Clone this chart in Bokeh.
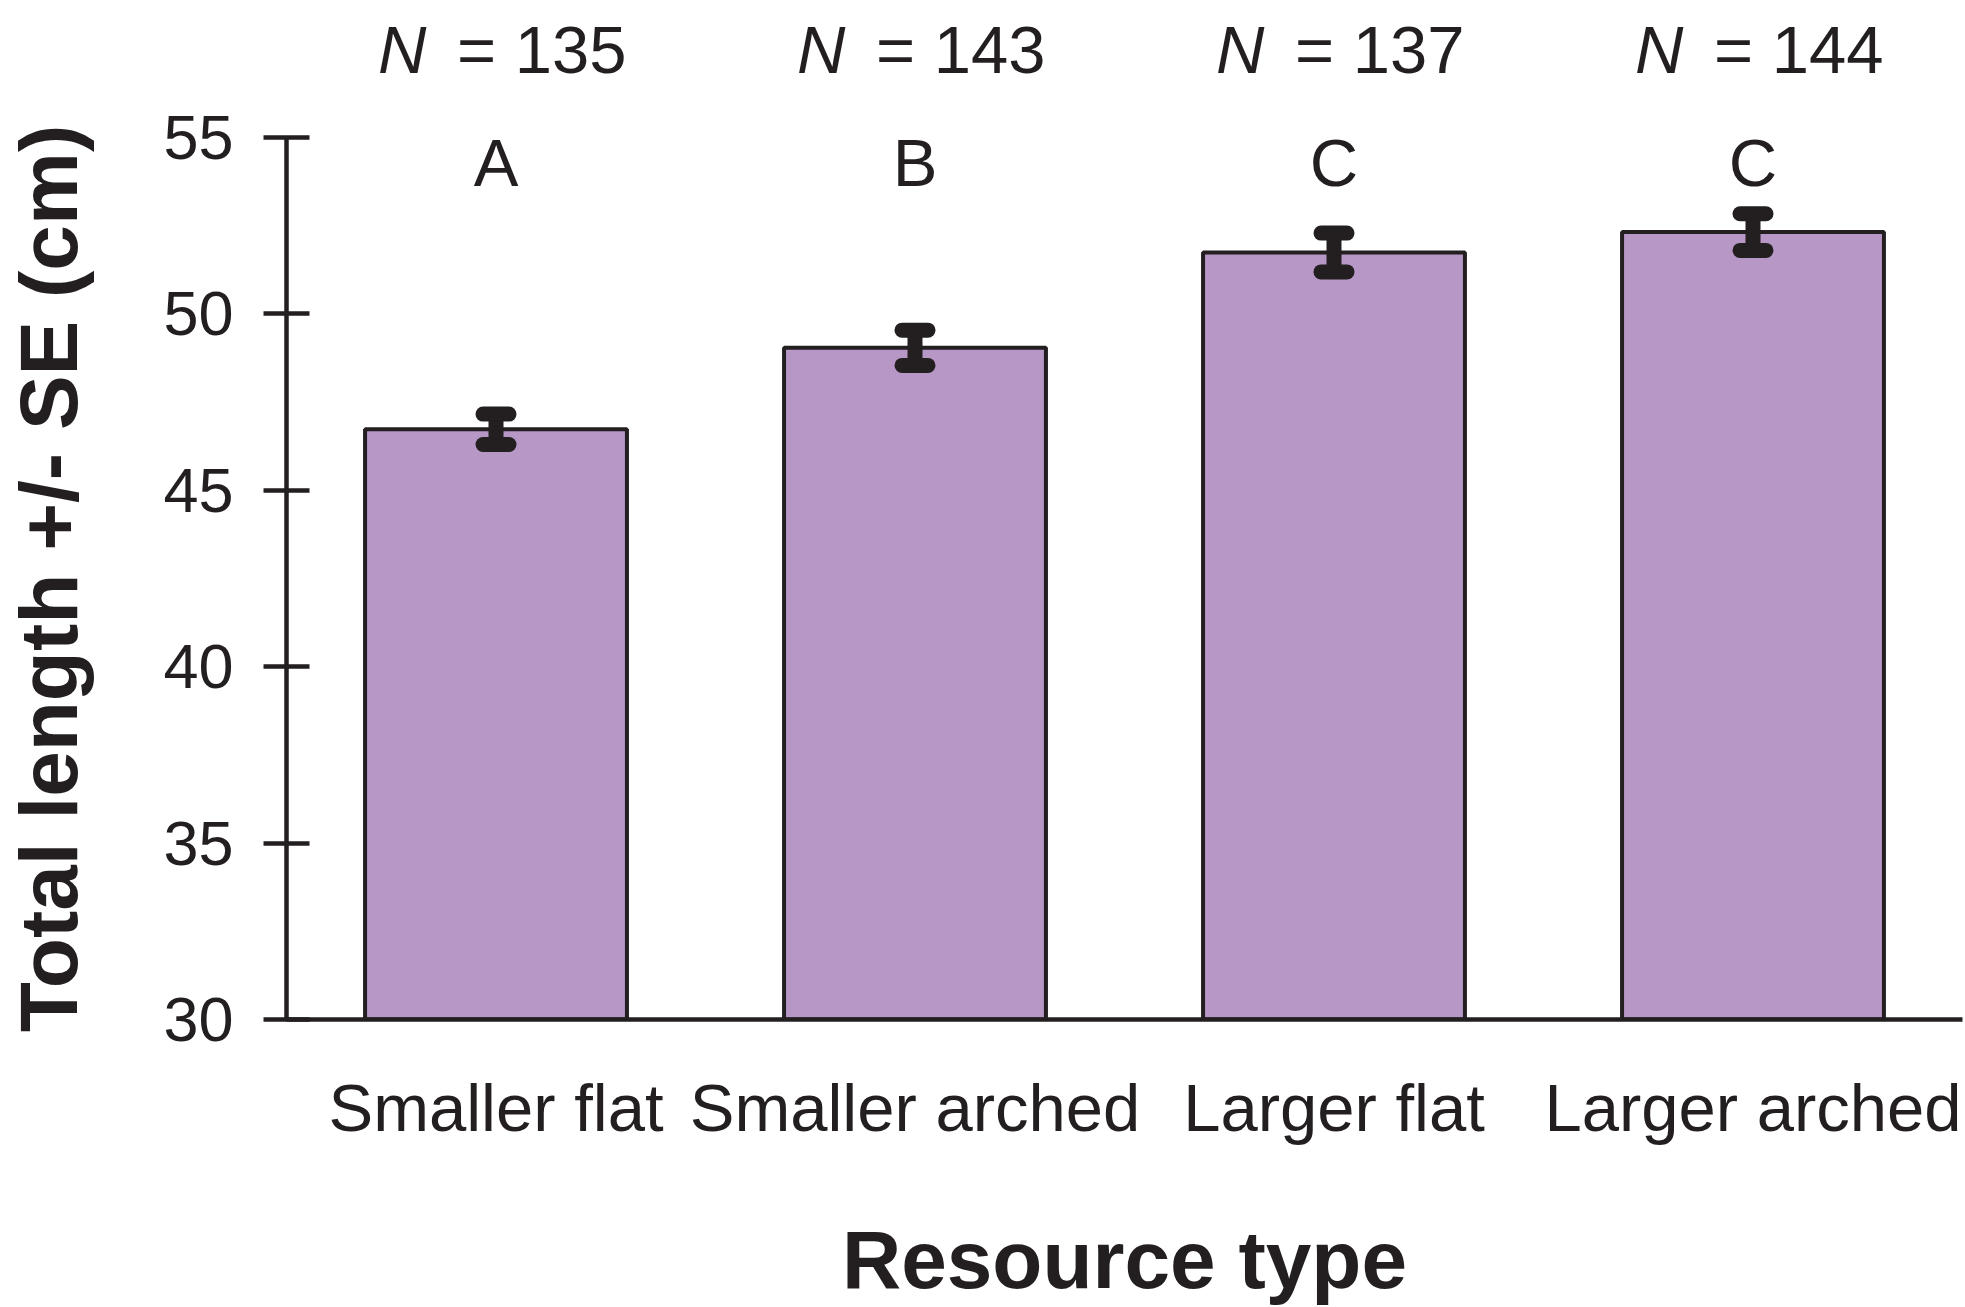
from bokeh.plotting import figure
from bokeh.layouts import column
from bokeh.models import ColumnDataSource, FactorRange, Range1d, FixedTicker, LabelSet
from bokeh.transform import dodge
from bokeh.core.properties import value
from bokeh.embed import file_html
from bokeh.resources import INLINE

# Mean total length (cm) by resource type, with standard errors
categories = ["Smaller flat", "Smaller arched", "Larger flat", "Larger arched"]
mean_length = [46.73, 49.04, 51.74, 52.32]
std_error = [0.43, 0.50, 0.55, 0.52]
sample_sizes = [135, 143, 137, 144]
group_letters = ["A", "B", "C", "C"]
y_ticks = [30, 35, 40, 45, 50, 55]

INK = "#231F20"
FILL = "#B797C6"
FONT = "Liberation Sans"
W = 1965
TOP_H = 100          # strip above the chart holding the sample sizes
TOTAL_H = 1307

src = ColumnDataSource(dict(
    cat=categories,
    mean=mean_length,
    lo=[m - e for m, e in zip(mean_length, std_error)],
    hi=[m + e for m, e in zip(mean_length, std_error)],
    n_sym=["N"] * len(categories),
    n_rest=[f"= {n}" for n in sample_sizes],
    letter=group_letters,
))

x_range = FactorRange(factors=categories, range_padding=0)

# --- strip with "N = ..." labels, sharing the category axis ---
top = figure(
    width=W, height=TOP_H, x_range=x_range, y_range=Range1d(0, TOP_H),
    x_axis_location=None, y_axis_location=None,
    output_backend="svg", toolbar_location=None,
    min_border_left=286, min_border_right=3, min_border_top=0, min_border_bottom=0,
)
top.outline_line_color = None
top.grid.grid_line_color = None
n_base = 28
top.add_layout(LabelSet(x="cat", y=n_base, text="n_sym", source=src, x_offset=-118,
                        text_font=value(FONT), text_font_style="italic",
                        text_font_size="67px", text_color=INK,
                        text_align="left", text_baseline="alphabetic"))
top.add_layout(LabelSet(x="cat", y=n_base, text="n_rest", source=src, x_offset=-39,
                        text_font=value(FONT), text_font_size="67px", text_color=INK,
                        text_align="left", text_baseline="alphabetic"))

# --- main bar chart ---
p = figure(
    width=W, height=TOTAL_H - TOP_H,
    x_range=x_range, y_range=Range1d(30, 55),
    output_backend="svg", toolbar_location=None,
    min_border_left=286, min_border_right=3,
    min_border_top=37, min_border_bottom=280,
)
p.outline_line_color = None
p.grid.grid_line_color = None

# bars
p.vbar(x="cat", top="mean", bottom=30, width=0.625, source=src,
       fill_color=FILL, line_color=INK, line_width=4)

# error bars: stem plus rounded caps
cap = 0.031
p.segment(x0="cat", y0="lo", x1="cat", y1="hi", source=src,
          line_color=INK, line_width=15)
for col in ("lo", "hi"):
    p.segment(x0=dodge("cat", -cap, range=x_range), y0=col,
              x1=dodge("cat", cap, range=x_range), y1=col, source=src,
              line_color=INK, line_width=15, line_cap="round")

# significance letters
letter_y = 53.63
p.add_layout(LabelSet(x="cat", y=letter_y, text="letter", source=src,
                      text_font=value(FONT), text_font_size="67px", text_color=INK,
                      text_align="center", text_baseline="alphabetic"))

# y axis
ya = p.yaxis[0]
ya.ticker = FixedTicker(ticks=y_ticks)
ya.minor_tick_line_color = None
ya.major_tick_in = 23
ya.major_tick_out = 23
ya.major_tick_line_width = 4.5
ya.major_tick_line_color = INK
ya.axis_line_width = 4.5
ya.axis_line_color = INK
ya.major_label_text_font = FONT
ya.major_label_text_font_size = "63px"
ya.major_label_text_color = INK
ya.major_label_standoff = 30
ya.axis_label = "Total length +/- SE (cm)"
ya.axis_label_text_font = FONT
ya.axis_label_text_font_style = "bold"
ya.axis_label_text_font_size = "82px"
ya.axis_label_text_color = INK
ya.axis_label_standoff = 66

# x axis
xa = p.xaxis[0]
xa.major_tick_line_color = None
xa.minor_tick_line_color = None
xa.axis_line_width = 4.5
xa.axis_line_color = INK
xa.major_label_text_font = FONT
xa.major_label_text_font_size = "67px"
xa.major_label_text_color = INK
xa.major_label_standoff = 44
xa.axis_label = "Resource type"
xa.axis_label_text_font = FONT
xa.axis_label_text_font_style = "bold"
xa.axis_label_text_font_size = "82px"
xa.axis_label_text_color = INK
xa.axis_label_standoff = 66

layout = column(top, p, spacing=0)
open("out.html", "w").write(file_html(layout, INLINE))
